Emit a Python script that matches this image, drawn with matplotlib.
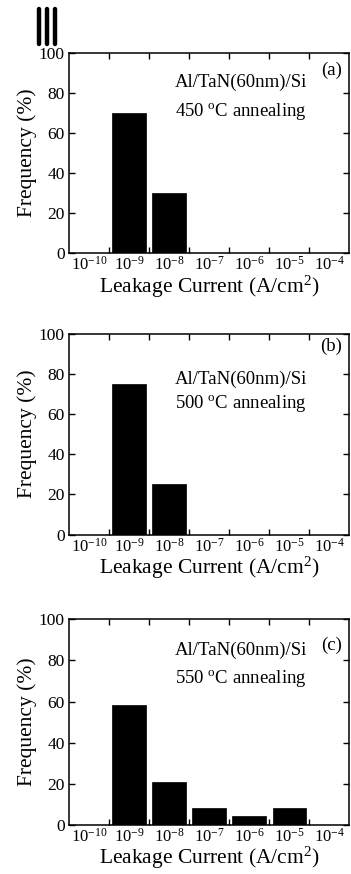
import matplotlib
matplotlib.use("Agg")
import matplotlib.pyplot as plt
from matplotlib.lines import Line2D

plt.rcParams['font.family'] = ['Liberation Serif', 'DejaVu Serif']
plt.rcParams['mathtext.fontset'] = 'custom'
plt.rcParams['mathtext.rm'] = 'Liberation Serif'
plt.rcParams['mathtext.it'] = 'Liberation Serif:italic'

# ---- data ----
exponents = [-10, -9, -8, -7, -6, -5, -4]
tick_labels = [r'$\mathregular{10^{%d}}$' % e for e in exponents]
freq_450 = [0, 70, 30, 0, 0, 0, 0]
freq_500 = [0, 75, 25, 0, 0, 0, 0]
freq_550 = [0, 58.3, 20.8, 8.3, 4.2, 8.3, 0]
panel_tags = ['(a)', '(b)', '(c)']
temps = ['450', '500', '550']
sample = 'Al/TaN(60nm)/Si'
y_ticks = [0, 20, 40, 60, 80, 100]

series = [freq_450, freq_500, freq_550]

fig = plt.figure(figsize=(3.51, 8.74), dpi=100)

# axes rects [left, bottom, width, height]
rects = [
    [0.1966, 0.7109, 0.7986, 0.2288],
    [0.1966, 0.3884, 0.7986, 0.2300],
    [0.1966, 0.0566, 0.7986, 0.2346],
]
# text positions (axes coords): sample line y, temp line y, tag y
txt_pos = [(0.85, 0.705, 0.91), (0.774, 0.65, 0.934), (0.848, 0.713, 0.876)]

x = list(range(len(exponents)))
for i, (vals, rect) in enumerate(zip(series, rects)):
    ax = fig.add_axes(rect)
    ax.bar(x, vals, width=0.835, color='black', edgecolor='black', linewidth=0.5)
    ax.set_xlim(-0.5, 6.5)
    ax.set_ylim(0, 100)
    ax.set_xticks(x)
    ax.set_xticklabels(tick_labels, fontsize=12)
    ax.set_xticks([k + 0.5 for k in x[:-1]], minor=True)
    ax.set_yticks(y_ticks)
    ax.set_yticklabels([str(v) for v in y_ticks], fontsize=12.5)
    ax.tick_params(axis='x', which='major', length=0, pad=2)
    ax.tick_params(axis='x', which='minor', direction='in', top=True, bottom=True,
                   length=4, width=1.0)
    ax.tick_params(axis='y', which='major', direction='in', left=True, right=True,
                   length=4.5, width=1.0, pad=3)
    for s in ax.spines.values():
        s.set_linewidth(1.1)
    ax.set_ylabel('Frequency (%)', fontsize=15.5, labelpad=1)
    ax.set_xlabel(r'Leakage Current (A/cm$^{\mathregular{2}}$)', fontsize=15.5, labelpad=0)
    ys, yt, ytag = txt_pos[i]
    ax.text(0.378, ys, sample, transform=ax.transAxes, fontsize=13.5, va='center', ha='left')
    ax.text(0.378, yt, temps[i] + r' $^{\mathregular{o}}$C annealing', transform=ax.transAxes,
            fontsize=13.5, va='center', ha='left')
    ax.text(0.935, ytag, panel_tags[i], transform=ax.transAxes, fontsize=13.5,
            va='center', ha='center')

# scan artifact above the first "100" label
for xp in [38.5, 46.5, 55]:
    fig.add_artist(Line2D([xp / 351, xp / 351], [1 - 9 / 874, 1 - 44 / 874],
                          transform=fig.transFigure, color='black', linewidth=3.2,
                          solid_capstyle='round'))

fig.savefig('out.png', dpi=100)
